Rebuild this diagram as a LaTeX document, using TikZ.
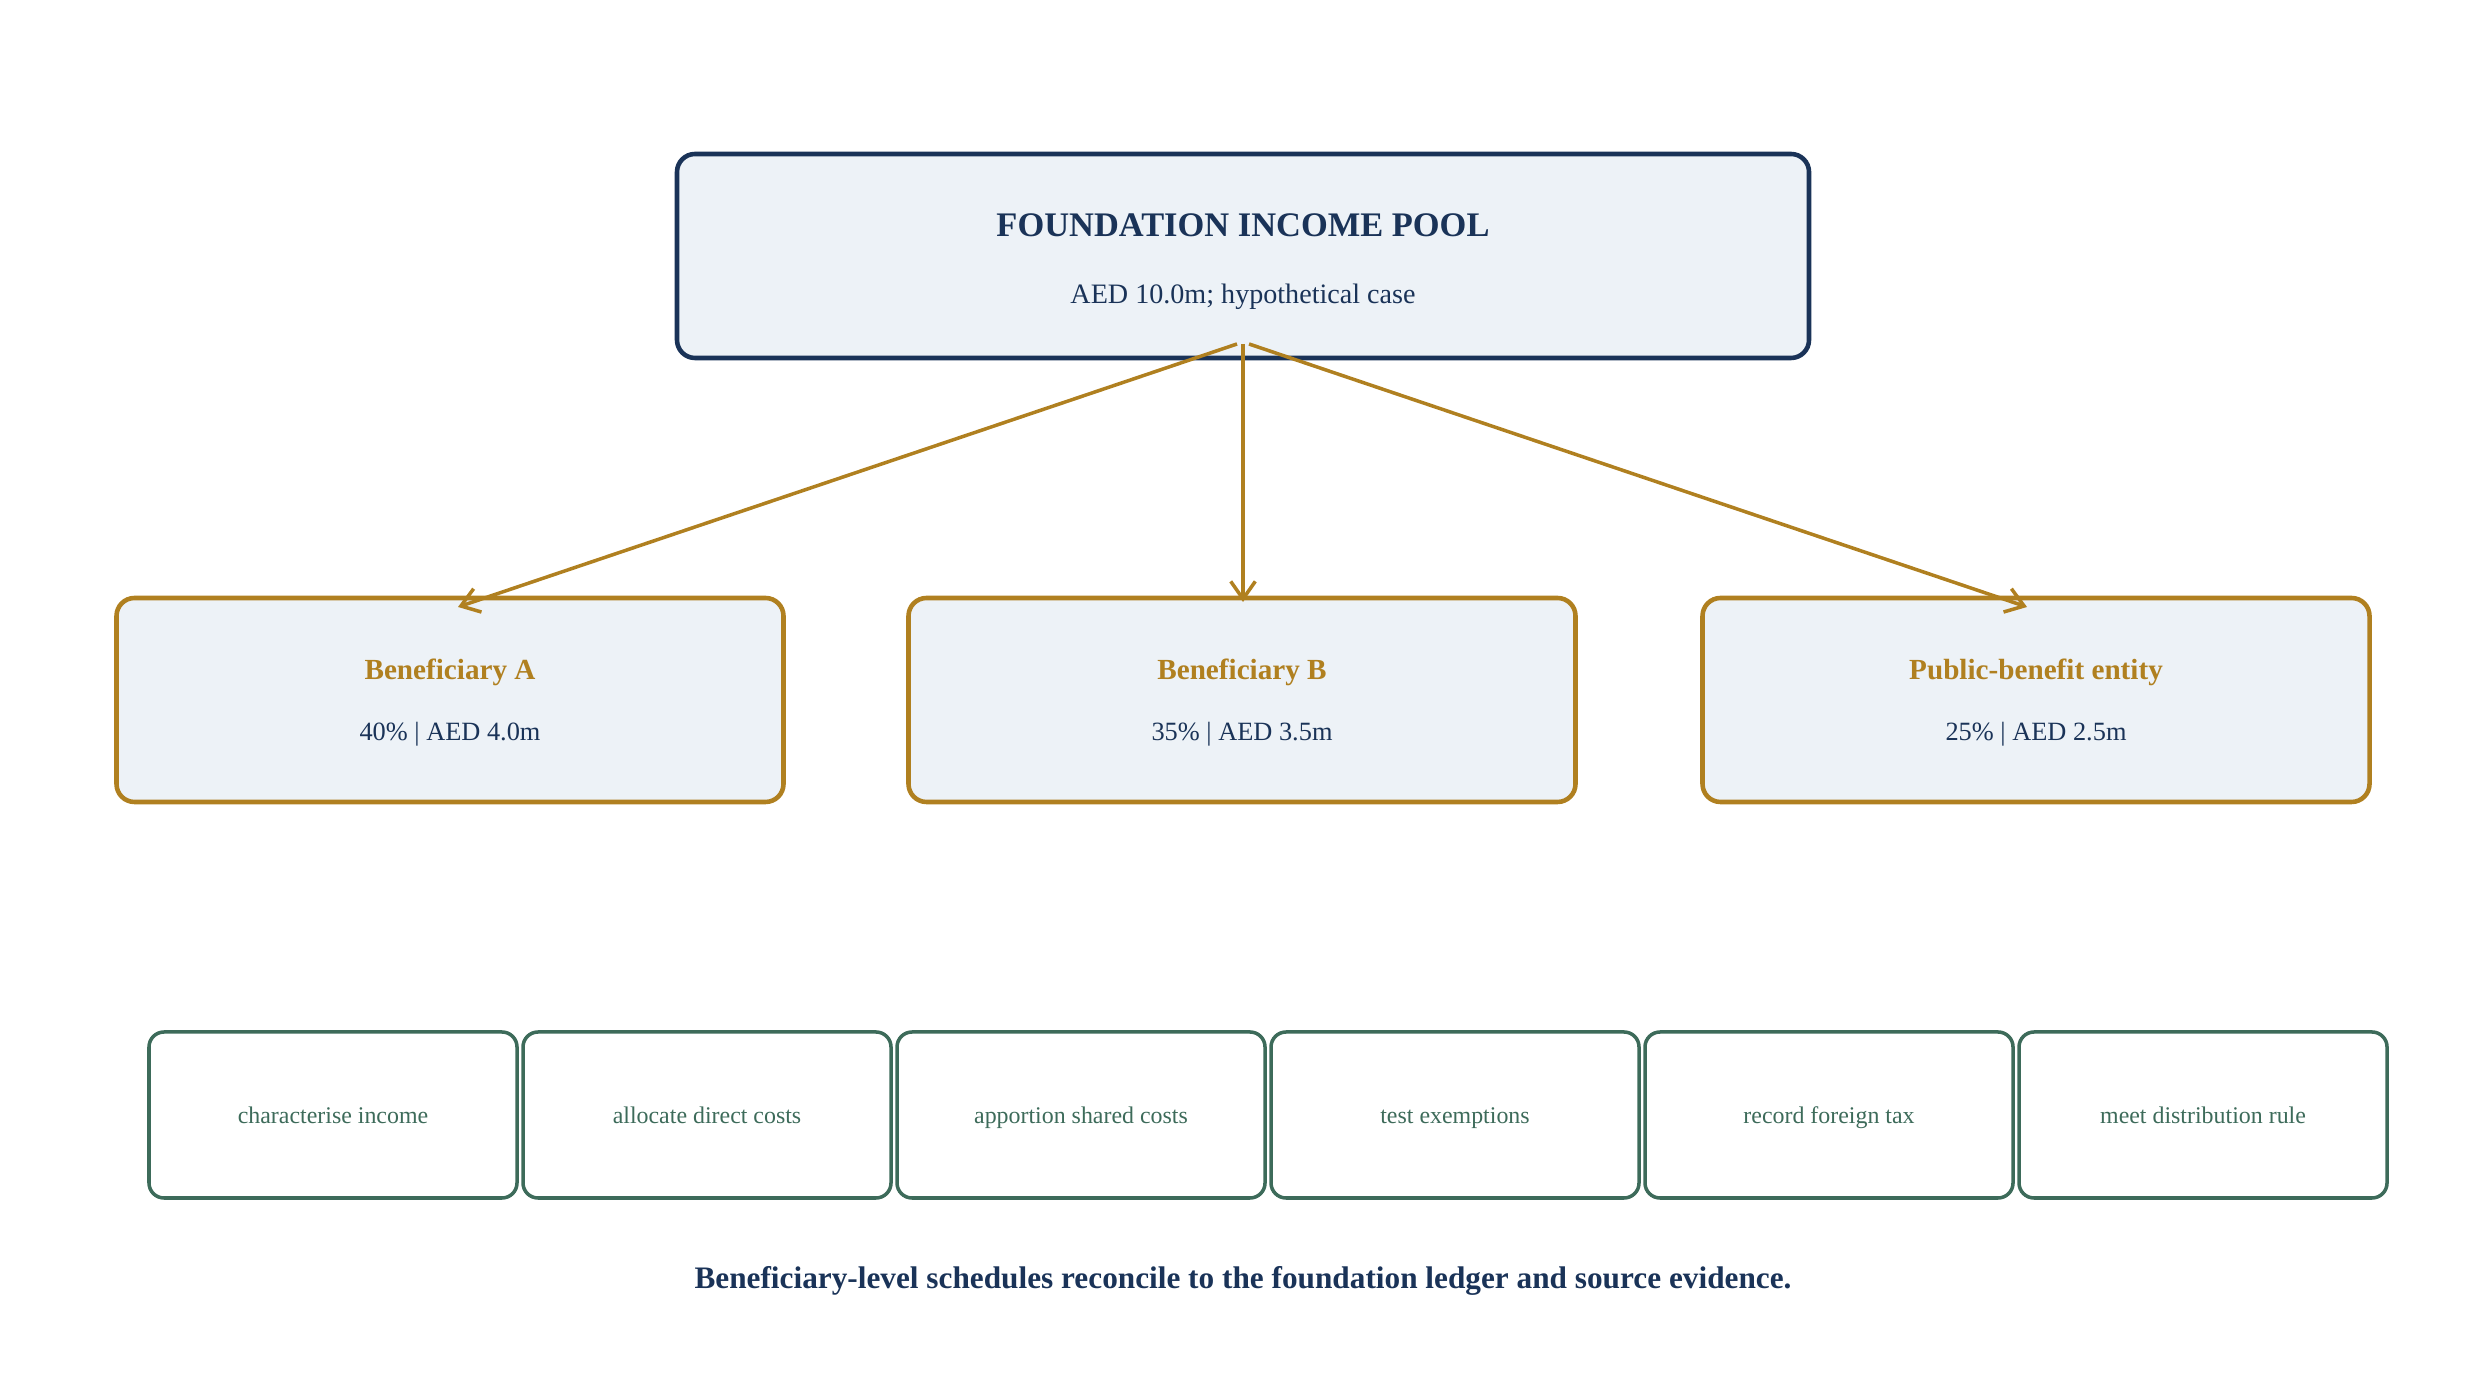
\documentclass[tikz,border=0pt]{standalone}
\usepackage{fontspec}
\setmainfont{Liberation Serif}
\usetikzlibrary{arrows.meta,positioning}
\definecolor{navy}{HTML}{1A3358}
\definecolor{gold}{HTML}{B08020}
\definecolor{sage}{HTML}{3D6B5A}
\definecolor{pale}{HTML}{EDF2F7}
\tikzset{
  pool/.style={draw=navy,fill=pale,line width=1.3pt,rounded corners=0.18cm,minimum width=11.32cm,minimum height=2.04cm},
  share/.style={draw=gold,fill=pale,line width=1.3pt,rounded corners=0.18cm,minimum width=6.67cm,minimum height=2.04cm},
  task/.style={draw=sage,fill=white,line width=1pt,rounded corners=0.15cm,minimum width=3.68cm,minimum height=1.66cm,text height=1.6ex,text depth=0.5ex,font=\fontsize{6.8}{8}\selectfont,text=sage},
  flow/.style={draw=gold,line width=1pt,-{Straight Barb[length=5pt,width=7pt]}}
}
\begin{document}
\begin{tikzpicture}[x=1cm,y=1cm]
\useasboundingbox (0,0) rectangle (24.86,13.86);
% income pool
\node[pool] (pool) at (12.43,11.30) {};
\node[font=\fontsize{9.8}{12}\selectfont\bfseries,text=navy] (pooltitle) at (12.43,11.61) {FOUNDATION INCOME POOL};
\node[font=\fontsize{8}{10}\selectfont,text=navy] (poolsub) at (12.43,10.89) {AED 10.0m; hypothetical case};
% beneficiaries
\foreach \name/\x/\title/\sub in {benA/4.50/Beneficiary A/40\% | AED 4.0m,benB/12.42/Beneficiary B/35\% | AED 3.5m,benC/20.36/Public-benefit entity/25\% | AED 2.5m}{
  \node[share] (\name) at (\x,6.86) {};
  \node[font=\fontsize{8.3}{10}\selectfont\bfseries,text=gold] at (\x,7.14) {\title};
  \node[font=\fontsize{7.5}{9}\selectfont,text=navy] at (\x,6.52) {\sub};
}
\coordinate (outL) at (12.37,10.42);
\coordinate (outM) at (12.43,10.42);
\coordinate (outR) at (12.49,10.42);
\coordinate (inA) at (4.58,7.79);
\coordinate (inB) at (12.43,7.84);
\coordinate (inC) at (20.27,7.79);
\draw[flow] (outL) -- (inA);
\draw[flow] (outM) -- (inB);
\draw[flow] (outR) -- (inC);
% schedule steps
\foreach \i/\txt in {0/characterise income,1/allocate direct costs,2/apportion shared costs,3/test exemptions,4/record foreign tax,5/meet distribution rule}{
  \node[task] (task\i) at ({3.33+3.74*\i},2.71) {\txt};
}
\node[font=\fontsize{8.9}{10}\selectfont\bfseries,text=navy] (note) at (12.43,1.05) {Beneficiary-level schedules reconcile to the foundation ledger and source evidence.};
\end{tikzpicture}
\end{document}
